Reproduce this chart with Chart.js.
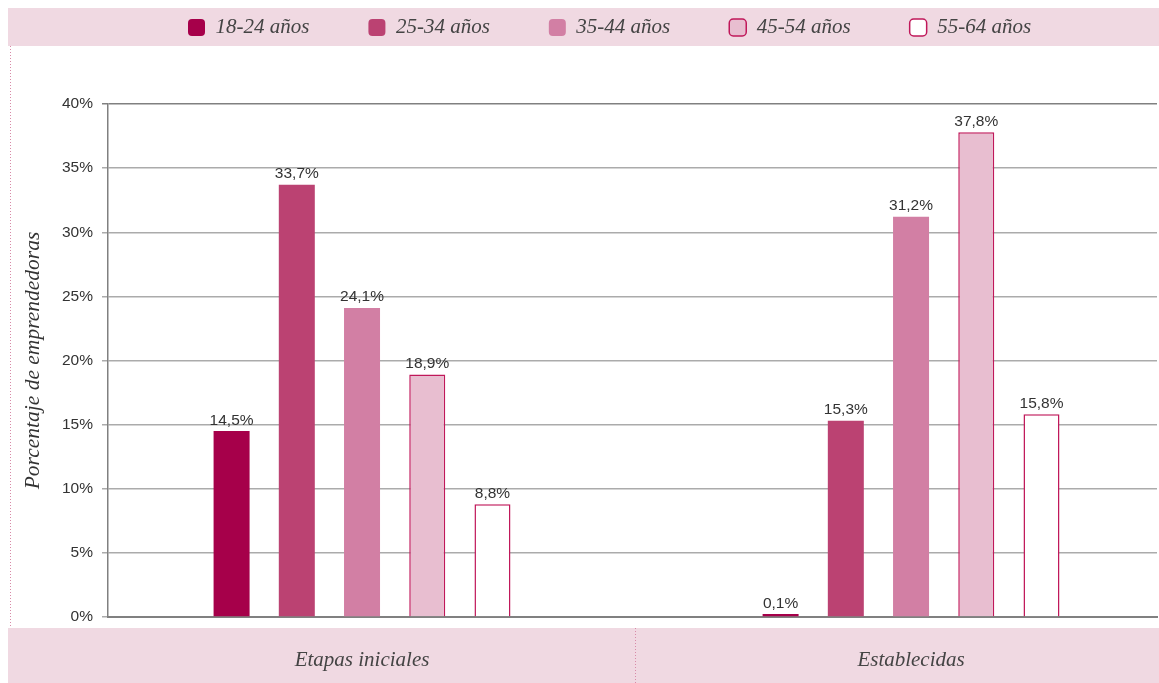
<!DOCTYPE html>
<html>
<head>
<meta charset="utf-8">
<script src="https://cdn.jsdelivr.net/npm/chart.js@4/dist/chart.umd.min.js"></script>
<style>
    html, body { margin: 0; padding: 0; background: #fff; }
    #wrap { position: relative; width: 1159px; height: 683px; }
</style>
</head>
<body>
<div id="wrap"><canvas id="grafico" width="1159" height="683"></canvas></div>
<script>
// datos
const categorias = ['Etapas iniciales', 'Establecidas'];
const gruposEdad = ['18-24 años', '25-34 años', '35-44 años', '45-54 años', '55-64 años'];
const edad18a24 = [14.5, 0.1];
const edad25a34 = [33.7, 15.3];
const edad35a44 = [24.1, 31.2];
const edad45a54 = [18.9, 37.8];
const edad55a64 = [8.8, 15.8];
const ticksY = [0, 5, 10, 15, 20, 25, 30, 35, 40];

const series = [edad18a24, edad25a34, edad35a44, edad45a54, edad55a64];
const rellenos = ['#a6004a', '#bb4272', '#d27fa4', '#e8bed0', '#ffffff'];
const bordes = ['#a6004a', '#bb4272', '#d27fa4', '#c0185a', '#c0185a'];
const grosores = [0, 0, 0, 1.5, 1.5];

const rosaBanda = '#f0d9e2';
const fmt = v => v.toFixed(1).replace('.', ',') + '%';

// bandas rosas y lineas punteadas del fondo
const fondo = {
    id: 'fondo',
    beforeDraw(chart) {
        const ctx = chart.ctx;
        ctx.save();
        ctx.fillStyle = rosaBanda;
        ctx.fillRect(8, 8, 1151, 38);
        ctx.fillRect(8, 628, 1151, 55);
        ctx.strokeStyle = '#d88aa8';
        ctx.lineWidth = 1;
        ctx.setLineDash([1, 2]);
        ctx.beginPath();
        ctx.moveTo(10.5, 46);
        ctx.lineTo(10.5, 626);
        ctx.moveTo(635.5, 628);
        ctx.lineTo(635.5, 683);
        ctx.stroke();
        ctx.restore();
    }
};

// mueve la leyenda dentro de la banda superior
const leyenda = {
    id: 'leyenda',
    beforeInit(chart) {
        const fit = chart.legend.fit;
        chart.legend.fit = function () {
            fit.call(this);
            this.height = 104;
        };
    },
    afterLayout(chart) {
        const lg = chart.legend;
        const pad = lg.options.labels.padding;
        const dx = 188 - pad - lg.left;
        lg.left += dx;
        lg.right += dx;
        lg.top = 17 - pad;
    }
};

// etiquetas de valor encima de cada barra
const etiquetas = {
    id: 'etiquetas',
    afterDatasetsDraw(chart) {
        const ctx = chart.ctx;
        ctx.save();
        ctx.font = '15.5px "Liberation Sans", Arial, sans-serif';
        ctx.fillStyle = '#333';
        ctx.textAlign = 'center';
        ctx.textBaseline = 'bottom';
        chart.data.datasets.forEach((ds, i) => {
            chart.getDatasetMeta(i).data.forEach((bar, j) => {
                ctx.fillText(fmt(series[i][j]), bar.x, bar.y - 3);
            });
        });
        ctx.restore();
    }
};

new Chart(document.getElementById('grafico'), {
    type: 'bar',
    data: {
        datasets: series.map((vals, i) => ({
            label: gruposEdad[i],
            data: vals.map((v, j) => ({ x: j, y: v })),
            backgroundColor: rellenos[i],
            borderColor: bordes[i],
            borderWidth: grosores[i],
            minBarLength: 3,
            categoryPercentage: 0.594,
            barPercentage: 0.552
        }))
    },
    options: {
        responsive: false,
        animation: false,
        layout: { padding: { left: 0, right: 2, top: 0, bottom: 0 } },
        plugins: {
            legend: {
                position: 'top',
                align: 'start',
                labels: {
                    boxWidth: 17,
                    boxHeight: 17,
                    useBorderRadius: true,
                    borderRadius: 4,
                    padding: 59,
                    color: '#444',
                    font: { family: '"Liberation Serif", "Times New Roman", serif', style: 'italic', size: 21 }
                }
            },
            tooltip: { enabled: false }
        },
        scales: {
            x: {
                type: 'linear',
                offset: false,
                bounds: 'data',
                min: -0.4627,
                max: 1.448,
                afterBuildTicks(scale) {
                    scale.ticks = categorias.map((c, i) => ({ value: i }));
                },
                afterFit(scale) { scale.height = 66; },
                grid: { display: false, drawTicks: false, offset: false },
                border: { display: true, color: '#808080', width: 2 },
                ticks: {
                    padding: 31,
                    autoSkip: false,
                    maxRotation: 0,
                    color: '#444',
                    font: { family: '"Liberation Serif", "Times New Roman", serif', style: 'italic', size: 21 },
                    callback: v => categorias[v]
                }
            },
            y: {
                min: 0,
                max: 40,
                afterBuildTicks(scale) {
                    scale.ticks = ticksY.map(v => ({ value: v }));
                },
                afterFit(scale) { scale.width = 108; },
                grid: {
                    color: ctx => ctx.tick && ctx.tick.value === 40 ? '#808080' : '#ababab',
                    lineWidth: 1.5,
                    tickLength: 6
                },
                border: { display: true, color: '#808080', width: 1.5 },
                ticks: {
                    padding: 9,
                    color: '#333',
                    font: { family: '"Liberation Sans", Arial, sans-serif', size: 15.5 },
                    callback: v => v + '%'
                },
                title: {
                    display: true,
                    text: 'Porcentaje de emprendedoras',
                    color: '#333',
                    padding: { top: 20, bottom: 0 },
                    font: { family: '"Liberation Serif", "Times New Roman", serif', style: 'italic', size: 21.5 }
                }
            }
        }
    },
    plugins: [fondo, leyenda, etiquetas]
});
</script>
</body>
</html>
